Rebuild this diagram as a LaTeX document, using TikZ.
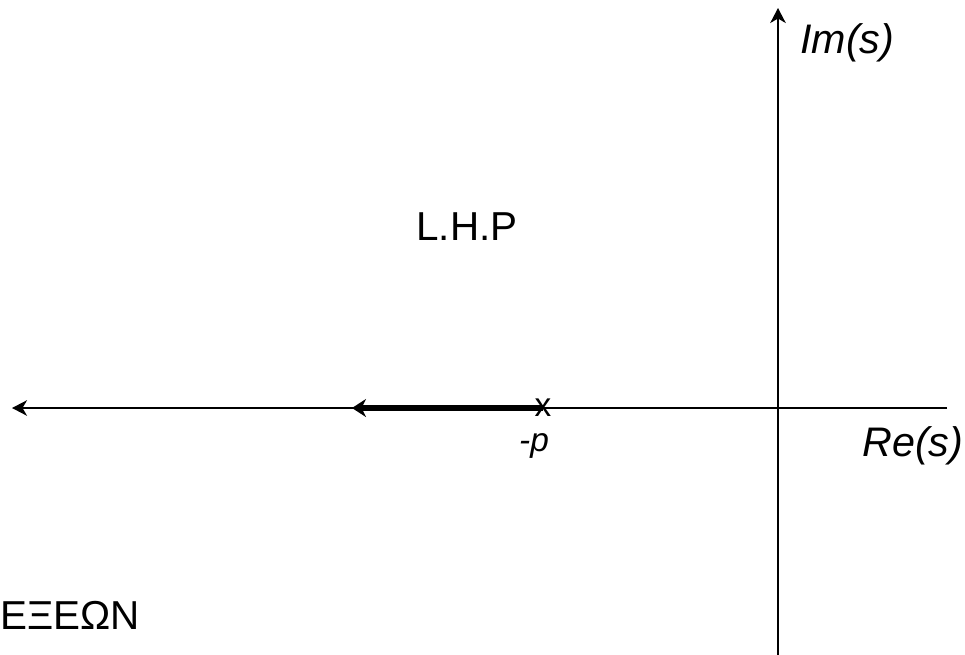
\documentclass[tikz,border=0pt]{standalone}
\usepackage{fontspec}
\setmainfont{Liberation Sans}
\usetikzlibrary{arrows.meta,positioning}

\begin{document}
\begin{tikzpicture}[
      x=0.02cm,y=-0.02cm,
      axis/.style={line width=1.2pt,-{Stealth[length=3mm,width=3.1mm,inset=0.9mm]}},
      locus/.style={line width=3pt,-{Stealth[length=2.8mm,width=3.6mm,inset=0.9mm]}},
      lbl/.style={inner sep=0pt,font=\fontsize{23.5}{26}\selectfont\itshape},
      small/.style={inner sep=0pt,font=\fontsize{19}{22}\selectfont}]
    \useasboundingbox (0,0) rectangle (965,654);
    % axes
    \coordinate (origin) at (778,408);
    \coordinate (reend) at (947,408);
    \coordinate (releft) at (12,408);
    \coordinate (imtop) at (778,8);
    \coordinate (imbot) at (778,660);
    \draw[axis] (reend)--(releft);
    \draw[axis] (imbot)--(imtop);
    % pole and root locus
    \node[small] (pole) at (543,408) {x};
    \coordinate (locend) at (352,408);
    \draw[locus] (pole.center)--(locend);
    \node[small,font=\fontsize{19}{22}\selectfont\itshape,anchor=base] (p) at (534,451) {-p};
    % labels
    \node[lbl,anchor=base west] (im) at (800,53) {Im(s)};
    \node[lbl,anchor=base west] (re) at (862,456) {Re(s)};
    \node[lbl,font=\fontsize{23}{26}\selectfont,anchor=base] (lhp) at (467,240) {L.H.P};
    \node[lbl,font=\fontsize{23}{26}\selectfont,anchor=base west] (tag) at (0,629) {ΕΞΕΩΝ};
  \end{tikzpicture}
\end{document}
